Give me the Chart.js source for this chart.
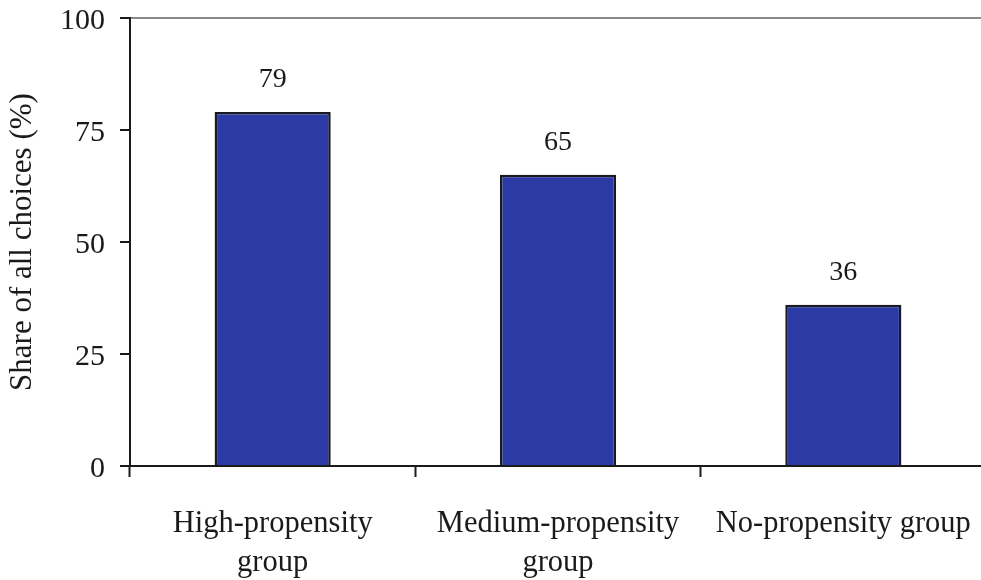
<!DOCTYPE html>
<html>
<head>
<meta charset="utf-8">
<script src="https://cdn.jsdelivr.net/npm/chart.js@4/dist/chart.umd.min.js"></script>
<style>
  html, body { margin: 0; padding: 0; background: #ffffff; overflow: hidden; }
  #wrap { position: relative; width: 986px; height: 580px; }
</style>
</head>
<body>
<div id="wrap"><canvas id="c"></canvas></div>
<script>
// Share of all choices by propensity group
const categories = [
  ['High-propensity', 'group'],
  ['Medium-propensity', 'group'],
  'No-propensity group'
];
const shareValues = [79, 65, 36];
const yTicks = [0, 25, 50, 75, 100];
const yTitle = 'Share of all choices (%)';

const serif = '"Liberation Serif", "Times New Roman", serif';

// Prints each bar's value above it
const valueLabels = {
  id: 'valueLabels',
  afterDatasetsDraw(chart) {
    const ctx = chart.ctx;
    const meta = chart.getDatasetMeta(0);
    ctx.save();
    ctx.font = '28px ' + serif;
    ctx.fillStyle = '#1a1a1a';
    ctx.textAlign = 'center';
    ctx.textBaseline = 'alphabetic';
    meta.data.forEach((bar, i) => {
      ctx.fillText(String(shareValues[i]), bar.x, bar.y - 25);
    });
    ctx.restore();
  }
};

new Chart(document.getElementById('c'), {
  type: 'bar',
  data: {
    labels: categories,
    datasets: [{
      data: shareValues,
      backgroundColor: '#2b3aa4',
      borderColor: '#1a1a24',
      borderWidth: 2.5,
      borderSkipped: 'bottom',
      barPercentage: 0.407,
      categoryPercentage: 1
    }]
  },
  options: {
    responsive: true,
    maintainAspectRatio: false,
    animation: false,
    layout: { padding: { top: 18, right: 0, bottom: 0, left: 0 } },
    plugins: {
      legend: { display: false },
      tooltip: { enabled: false }
    },
    scales: {
      x: {
        offset: true,
        grid: {
          offset: true,
          drawOnChartArea: false,
          drawTicks: true,
          tickLength: 11,
          tickColor: '#1a1a1a',
          tickWidth: 2
        },
        border: { display: true, color: '#1a1a1a', width: 2 },
        ticks: {
          color: '#1a1a1a',
          font: { family: serif, size: 30.5, lineHeight: 1.3 },
          padding: 27,
          maxRotation: 0,
          autoSkip: false
        },
        afterFit(scale) {
          scale.height = 114;
          scale.paddingLeft = 0;
          scale.paddingRight = 0;
        }
      },
      y: {
        min: 0,
        max: 100,
        afterBuildTicks(scale) { scale.ticks = yTicks.map(v => ({ value: v })); },
        grid: {
          drawOnChartArea: true,
          color: (c) => (c.tick && c.tick.value === 100) ? '#8a8a8a' : 'rgba(0,0,0,0)',
          lineWidth: 2,
          tickLength: 10,
          tickColor: '#1a1a1a',
          tickWidth: 2
        },
        border: { display: true, color: '#1a1a1a', width: 2 },
        ticks: {
          color: '#1a1a1a',
          font: { family: serif, size: 30 },
          padding: 15,
          labelOffset: 3
        },
        title: {
          display: true,
          text: yTitle,
          color: '#1a1a1a',
          font: { family: serif, size: 31 },
          padding: { top: 4, bottom: 0 }
        },
        afterFit(scale) {
          scale.width = 130;
          scale.paddingTop = 0;
          scale.paddingBottom = 0;
        }
      }
    }
  },
  plugins: [valueLabels]
});
</script>
</body>
</html>
